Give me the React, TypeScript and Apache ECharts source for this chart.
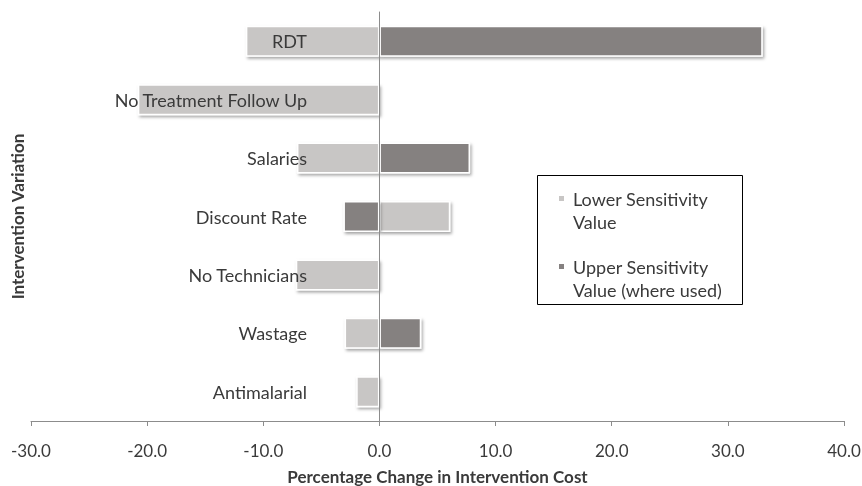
import React, { useEffect, useRef } from "react";
import * as echarts from "echarts";

const categories = [
  "RDT",
  "No Treatment Follow Up",
  "Salaries",
  "Discount Rate",
  "No Technicians",
  "Wastage",
  "Antimalarial",
];
const lowerValues: (number | null)[] = [-11.5, -20.8, -7.1, 6.1, -7.2, -3.0, -2.0];
const upperValues: (number | null)[] = [33.0, null, 7.8, -3.1, null, 3.6, null];
const seriesNames = ["Lower Sensitivity\nValue", "Upper Sensitivity\nValue (where used)"];
const xTicks = { min: -30, max: 40, interval: 10 };

const FONT = "Lato";
const TEXT = "#3a3a3a";
const AXIS = "#8c8c8c";

export default function App() {
  const ref = useRef<HTMLDivElement>(null);
  useEffect(() => {
    if (!ref.current) return;
    const chart = echarts.init(ref.current, undefined, { renderer: "svg" });
    const barStyle = (color: string) => ({
      color,
      borderColor: "#ffffff",
      borderWidth: 1.5,
      shadowBlur: 3,
      shadowColor: "rgba(0,0,0,0.35)",
      shadowOffsetX: 1.5,
      shadowOffsetY: 2,
    });
    chart.setOption({
      animation: false,
      textStyle: { fontFamily: FONT },
      grid: {
        left: 31,
        right: 18,
        top: 12,
        bottom: 65,
        containLabel: false,
        outerBoundsMode: "none",
      },
      graphic: [
        {
          type: "rect",
          shape: { x: 537.5, y: 175.5, width: 205, height: 129 },
          style: { fill: "#ffffff", stroke: "#000000", lineWidth: 1 },
          z: 50,
        },
      ],
      legend: {
        orient: "vertical",
        left: 557,
        top: 164,
        padding: 0,
        itemGap: -1,
        itemWidth: 7,
        itemHeight: 7,
        icon: "rect",
        selectedMode: false,
        z: 60,
        formatter: (name: string) => "\n" + name,
        textStyle: {
          fontFamily: FONT,
          fontSize: 18,
          color: TEXT,
          lineHeight: 23,
          padding: [0, 0, 0, 3],
        },
      },
      xAxis: {
        type: "value",
        min: xTicks.min,
        max: xTicks.max,
        interval: xTicks.interval,
        name: "Percentage Change in Intervention Cost",
        nameLocation: "middle",
        nameGap: 47,
        nameTextStyle: { fontFamily: FONT, fontSize: 17, fontWeight: "bold", color: TEXT },
        axisLine: { show: true, lineStyle: { color: AXIS, width: 1 } },
        axisTick: { show: true, length: 5, lineStyle: { color: AXIS } },
        splitLine: { show: false },
        axisLabel: {
          margin: 21,
          fontFamily: FONT,
          fontSize: 17,
          color: TEXT,
          formatter: (v: number) => v.toFixed(1),
        },
      },
      yAxis: {
        type: "category",
        data: categories,
        inverse: true,
        z: 10,
        name: "Intervention Variation",
        nameLocation: "middle",
        nameGap: 5,
        nameTextStyle: { fontFamily: FONT, fontSize: 17, fontWeight: "bold", color: TEXT },
        axisLine: { show: true, onZero: true, lineStyle: { color: AXIS, width: 1 } },
        axisTick: { show: false },
        splitLine: { show: false },
        axisLabel: { margin: -276, align: "right", fontFamily: FONT, fontSize: 18, color: TEXT },
      },
      series: [
        {
          name: seriesNames[0],
          type: "bar",
          data: lowerValues,
          barWidth: 31,
          barGap: "-100%",
          itemStyle: barStyle("#c8c6c5"),
        },
        {
          name: seriesNames[1],
          type: "bar",
          data: upperValues,
          barWidth: 31,
          barGap: "-100%",
          itemStyle: barStyle("#858180"),
        },
      ],
    });
    return () => chart.dispose();
  }, []);
  return (
    <div
      ref={ref}
      style={{ position: "fixed", left: 0, top: 0, width: 862, height: 486 }}
    />
  );
}
